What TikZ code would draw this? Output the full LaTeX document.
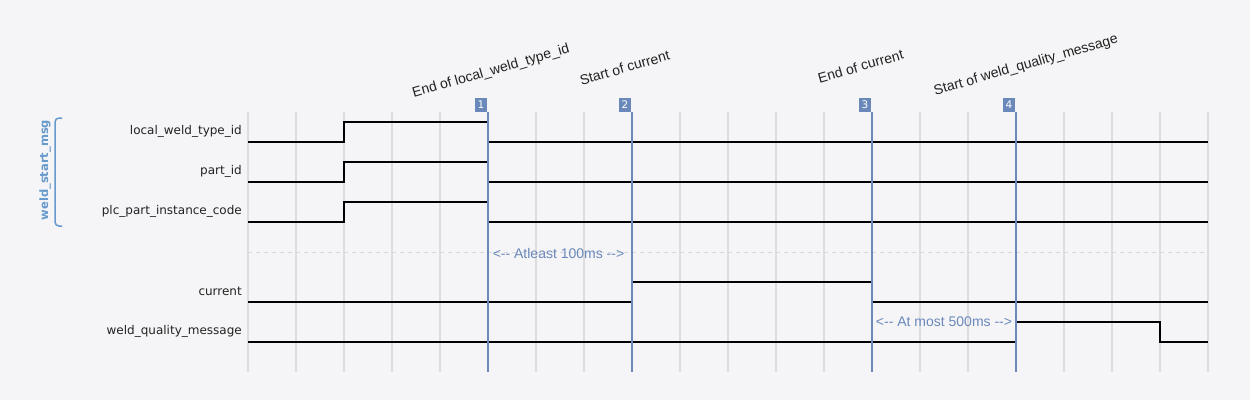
\documentclass[tikz,border=0pt]{standalone}
\usepackage{fontspec}
\setmainfont{Liberation Sans}
\newfontfamily\dvfont{DejaVu Sans}
\definecolor{bgc}{HTML}{F5F5F7}
\definecolor{gridc}{HTML}{DDDDE0}
\definecolor{sepc}{HTML}{D8D8DC}
\definecolor{markc}{HTML}{6A88BA}
\definecolor{grpc}{HTML}{6699CC}
\definecolor{txtc}{HTML}{222222}
\begin{document}
\begin{tikzpicture}[x=1pt,y=-1pt,
  gridline/.style={draw=gridc,line width=1.2pt},
  sepline/.style={draw=sepc,line width=1pt,dash pattern=on 4pt off 4pt},
  wire/.style={draw=black,line width=1.8pt},
  signame/.style={anchor=east,inner sep=0pt,font=\dvfont\fontsize{12}{14}\selectfont,text=txtc},
  markline/.style={draw=markc,line width=1.8pt},
  markbox/.style={fill=markc,text=white,minimum width=12pt,minimum height=14pt,inner sep=0pt,font=\dvfont\fontsize{10.5}{11}\selectfont},
  marklbl/.style={anchor=base,rotate=16,inner sep=0pt,font=\fontsize{14}{16}\selectfont,text=txtc},
  annot/.style={inner sep=0pt,font=\fontsize{14}{16}\selectfont,text=markc},
  grplbl/.style={rotate=90,inner sep=0pt,font=\dvfont\bfseries\fontsize{11.5}{13}\selectfont,text=grpc},
  grpbr/.style={draw=grpc,line width=1.5pt,rounded corners=4pt}
]
\fill[bgc] (0,0) rectangle (1250,400);
\useasboundingbox (0,0) rectangle (1250,400);

% grid
\foreach \i in {0,...,20} {
  \draw[gridline] (248+48*\i,112) -- (248+48*\i,372);
}
\draw[sepline] (248,252) -- (1208,252);

% group
\node[grplbl] (grp) at (45,170) {weld\_start\_msg};
\draw[grpbr] (62,118) -- (55,118) -- (55,226) -- (62,226);

% signal names
\node[signame] (s1) at (242,131) {local\_weld\_type\_id};
\node[signame] (s2) at (242,171) {part\_id};
\node[signame] (s3) at (242,211) {plc\_part\_instance\_code};
\node[signame] (s4) at (242,291) {current};
\node[signame] (s5) at (242,331) {weld\_quality\_message};

% wires
\draw[wire] (248,142) -- (344,142) -- (344,122) -- (488,122) -- (488,142) -- (1208,142);
\draw[wire] (248,182) -- (344,182) -- (344,162) -- (488,162) -- (488,182) -- (1208,182);
\draw[wire] (248,222) -- (344,222) -- (344,202) -- (488,202) -- (488,222) -- (1208,222);
\draw[wire] (248,302) -- (632,302) -- (632,282) -- (872,282) -- (872,302) -- (1208,302);
\draw[wire] (248,342) -- (1016,342) -- (1016,322) -- (1160,322) -- (1160,342) -- (1208,342);

% markers
\foreach \x/\n in {488/1,632/2,872/3,1016/4} {
  \draw[markline] (\x,112) -- (\x,372);
  \node[markbox] (m\n) at (\x-7,105) {\n};
}

% marker labels
\node[marklbl] (l1) at (492,75) {End of local\_weld\_type\_id};
\node[marklbl] (l2) at (626,72.5) {Start of current};
\node[marklbl] (l3) at (862,71) {End of current};
\node[marklbl] (l4) at (1027,69) {Start of weld\_quality\_message};

% annotations
\node[annot] (a1) at (558.5,253) {<-{}- Atleast 100ms -{}->};
\node[annot] (a2) at (944,322) {<-{}- At most 500ms -{}->};
\end{tikzpicture}
\end{document}
